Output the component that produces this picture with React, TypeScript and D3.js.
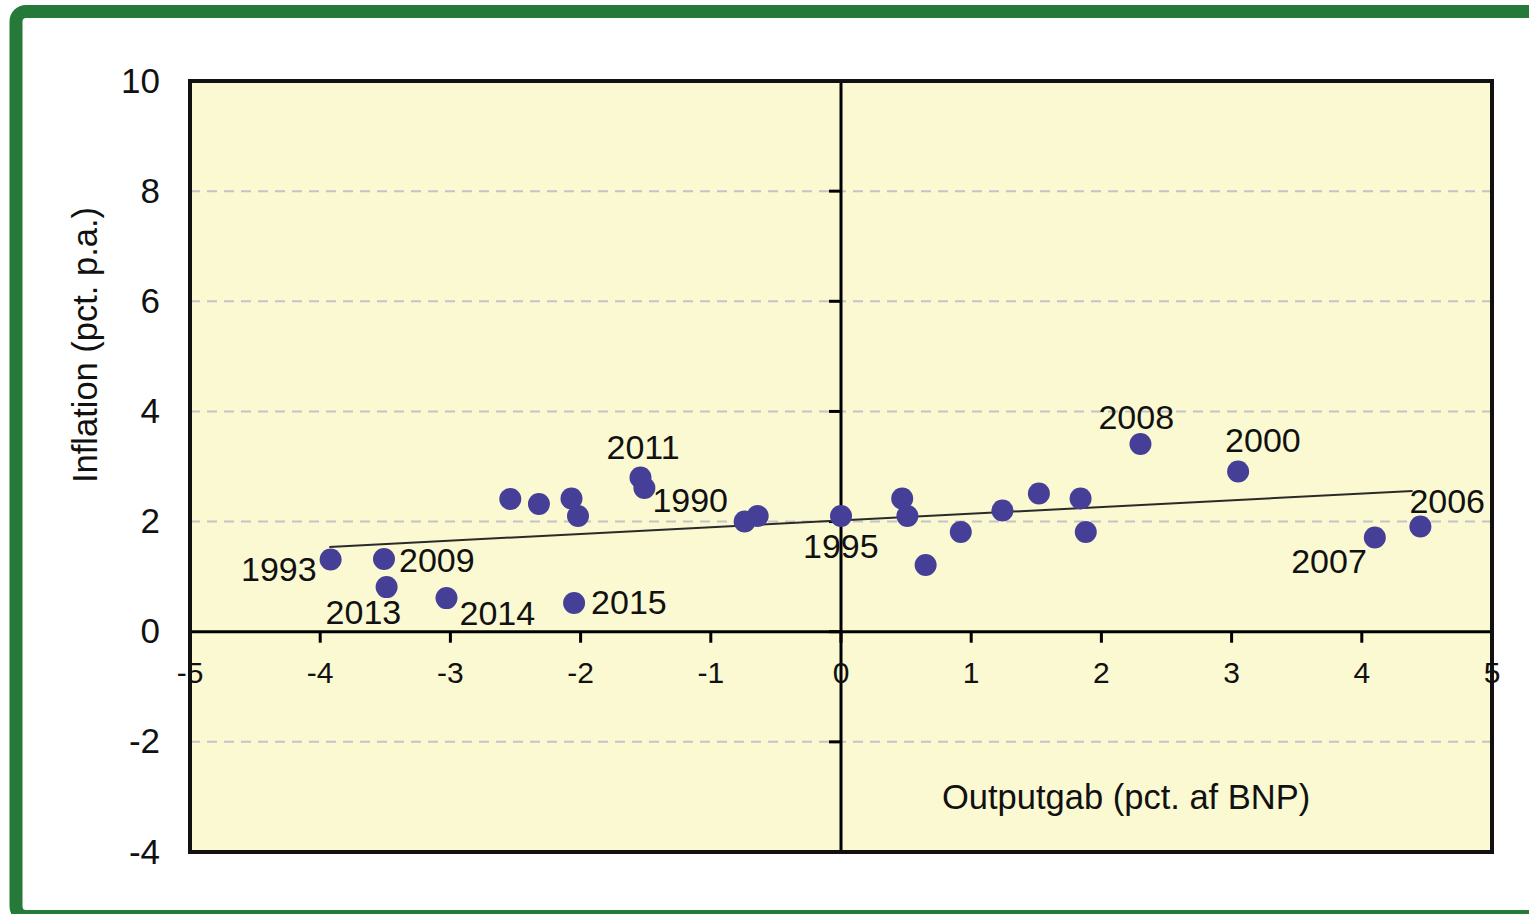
import * as d3 from "d3";

// output gap (pct. of GDP) and inflation (pct. p.a.) per year
const outputGap = [
  -3.92, -3.51, -3.49, -3.03, -2.05, -2.54, -2.32, -2.07, -2.02, -1.54, -1.51, -0.74, -0.64,
  0.0, 0.47, 0.51, 0.65, 0.92, 1.24, 1.52, 1.84, 1.88, 2.30, 3.05, 4.10, 4.45,
];
const inflation = [
  1.31, 1.32, 0.81, 0.61, 0.52, 2.41, 2.32, 2.42, 2.10, 2.80, 2.61, 2.00, 2.10,
  2.10, 2.42, 2.10, 1.21, 1.81, 2.20, 2.51, 2.42, 1.81, 3.41, 2.91, 1.71, 1.91,
];
const yearLabels = [
  "1993", "2009", "2013", "2014", "2015", "", "", "", "", "2011", "1990", "", "",
  "1995", "", "", "", "", "", "", "", "", "2008", "2000", "2007", "2006",
];

// trend line end points
const trendX = [-3.93, 4.39];
const trendY = [1.54, 2.555];

const xTicks = [-5, -4, -3, -2, -1, 0, 1, 2, 3, 4, 5];
const yTicks = [-4, -2, 0, 2, 4, 6, 8, 10];
const gridValues = [-2, 2, 4, 6, 8];

// where each year label sits relative to its dot (px)
const labelPos: Record<string, [number, number, string]> = {
  "1993": [-14, 21, "end"],
  "2009": [15, 13, "start"],
  "2013": [-61, 37, "start"],
  "2014": [13, 27, "start"],
  "2015": [17, 11, "start"],
  "2011": [-34, -19, "start"],
  "1990": [8, 24, "start"],
  "1995": [-38, 42, "start"],
  "2008": [-42, -15, "start"],
  "2000": [-13, -19, "start"],
  "2007": [-8, 35, "end"],
  "2006": [-11, -14, "start"],
};

const W = 1529;
const H = 914;
const plot = { left: 190, right: 1492, top: 81, bottom: 852 };
const font = "'Liberation Sans', Arial, sans-serif";
const green = "#257a3a";

export default function App() {
  const x = d3.scaleLinear().domain([-5, 5]).range([plot.left, plot.right]);
  const y = d3.scaleLinear().domain([-4, 10]).range([plot.bottom, plot.top]);
  const points = outputGap.map((g, i) => ({ g, inf: inflation[i], year: yearLabels[i] }));
  const trend = d3.line<number>()
    .x((d) => x(d))
    .y((_, i) => y(trendY[i]));

  return (
    <svg
      width={W}
      height={H}
      style={{ position: "absolute", left: 0, top: 0, fontFamily: font }}
    >
      <rect x={0} y={0} width={W} height={H} fill="#fff" />
      {/* green frame */}
      <rect x={16} y={11.5} width={W + 40} height={905} rx={10} fill="none" stroke={green} strokeWidth={13} />

      {/* plot area */}
      <rect
        x={plot.left}
        y={plot.top}
        width={plot.right - plot.left}
        height={plot.bottom - plot.top}
        fill="#fbf9d1"
      />
      {gridValues.map((v) => (
        <line
          key={v}
          x1={plot.left}
          x2={plot.right}
          y1={y(v)}
          y2={y(v)}
          stroke="#c4c4c4"
          strokeWidth={2}
          strokeDasharray="10 7"
        />
      ))}

      {/* axes through the origin */}
      <line x1={x(0)} x2={x(0)} y1={plot.top} y2={plot.bottom} stroke="#000" strokeWidth={3} />
      <line x1={plot.left} x2={plot.right} y1={y(0)} y2={y(0)} stroke="#000" strokeWidth={3} />
      {xTicks.slice(1, -1).map((t) => (
        <line key={t} x1={x(t)} x2={x(t)} y1={y(0)} y2={y(0) + 11} stroke="#000" strokeWidth={3} />
      ))}
      {yTicks.map((t) => (
        <line key={t} x1={x(0) - 12} x2={x(0)} y1={y(t)} y2={y(t)} stroke="#000" strokeWidth={3} />
      ))}

      {/* trend line */}
      <path d={trend(trendX) ?? ""} fill="none" stroke="#2a2a2a" strokeWidth={2} />

      {/* dots */}
      {points.map((p, i) => (
        <circle key={i} cx={x(p.g)} cy={y(p.inf)} r={11} fill="#463f98" />
      ))}

      {/* year labels */}
      {points
        .filter((p) => p.year)
        .map((p) => {
          const [dx, dy, anchor] = labelPos[p.year];
          return (
            <text
              key={p.year}
              x={x(p.g) + dx}
              y={y(p.inf) + dy}
              fontSize={34}
              textAnchor={anchor}
              fill="#111"
            >
              {p.year}
            </text>
          );
        })}

      {/* plot border */}
      <rect
        x={plot.left}
        y={plot.top}
        width={plot.right - plot.left}
        height={plot.bottom - plot.top}
        fill="none"
        stroke="#111"
        strokeWidth={4}
      />

      {/* tick labels */}
      {yTicks.map((t) => (
        <text key={t} x={160} y={y(t)} dy="0.33em" fontSize={35} textAnchor="end" fill="#111">
          {t}
        </text>
      ))}
      {xTicks.map((t) => (
        <text key={t} x={x(t)} y={y(0) + 51} fontSize={30} textAnchor="middle" fill="#111">
          {t}
        </text>
      ))}

      {/* axis titles */}
      <text x={942} y={809} fontSize={34.5} fill="#111">
        Outputgab (pct. af BNP)
      </text>
      <text
        transform={`translate(97,345) rotate(-90)`}
        fontSize={34.5}
        textAnchor="middle"
        fill="#111"
      >
        Inflation (pct. p.a.)
      </text>
    </svg>
  );
}
